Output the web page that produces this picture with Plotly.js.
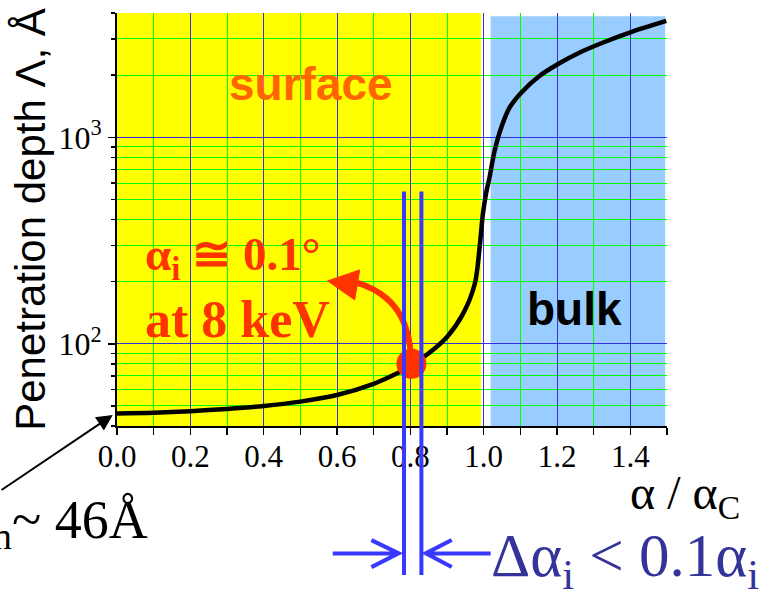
<!DOCTYPE html>
<html>
<head>
<meta charset="utf-8">
<script src="https://cdn.plot.ly/plotly-3.0.1.min.js"></script>
<style>html,body{margin:0;padding:0;background:#fff;}#chart{width:761px;height:591px;}</style>
</head>
<body>
<div id="chart"></div>
<script>
// ---- data ----
const alphaRatio = [0, 0.1, 0.2, 0.3, 0.4, 0.5, 0.6, 0.7, 0.75, 0.8, 0.85, 0.9, 0.944, 0.976, 0.989, 0.998, 1.007, 1.016, 1.03, 1.048, 1.071, 1.103, 1.153, 1.203, 1.262, 1.326, 1.398, 1.498];
const depth = [46, 46.4, 47.2, 48.4, 50, 52.5, 56.5, 64, 70, 78, 90, 108, 140, 196, 294, 427, 540, 640, 863, 1117, 1396, 1650, 1986, 2264, 2576, 2879, 3215, 3660];
const pointX = [0.803];
const pointY = [80];
const xTickVals = [0, 0.2, 0.4, 0.6, 0.8, 1.0, 1.2, 1.4];
const xTickText = ['0.0', '0.2', '0.4', '0.6', '0.8', '1.0', '1.2', '1.4'];
const yTickVals = [100, 1000];
const yTickText = ['10<sup>2</sup>', '10<sup>3</sup>'];
const yMinorVals = [40, 50, 60, 70, 80, 90, 200, 300, 400, 500, 600, 700, 800, 900, 2000, 3000, 4000];
const surfaceRange = [0, 0.993];
const bulkRange = [1.019, 1.495];

// paper-coordinate helper for decorations (plot area 117..667 x 13..426 px)
const PX = p => (p - 117.3) / 550;
const PY = p => (426 - p) / 412.7;

const serif = 'Liberation Serif, Times New Roman, serif';
const sans = 'Liberation Sans, Arial, sans-serif';

const traces = [
  {x: alphaRatio, y: depth, type: 'scatter', mode: 'lines',
   line: {color: 'black', width: 4.5, shape: 'spline', smoothing: 0.9}, hoverinfo: 'skip'},
  {x: pointX, y: pointY, type: 'scatter', mode: 'markers',
   marker: {color: '#ff3300', size: 30}, hoverinfo: 'skip'}
];

const shapes = [
  {type: 'rect', xref: 'x', yref: 'paper', x0: surfaceRange[0], x1: surfaceRange[1], y0: 0, y1: 1,
   fillcolor: '#ffff00', line: {width: 0}, layer: 'below'},
  {type: 'rect', xref: 'x', yref: 'paper', x0: bulkRange[0], x1: bulkRange[1], y0: -0.005, y1: 0.992,
   fillcolor: '#99ccff', line: {width: 0}, layer: 'below'},
  // red curved arrow
  {type: 'path', xref: 'paper', yref: 'paper', layer: 'above',
   path: `M ${PX(411.7)} ${PY(362)} C ${PX(410)} ${PY(320)} ${PX(395)} ${PY(295)} ${PX(358)} ${PY(283)}`,
   line: {color: '#ff3300', width: 6}},
  {type: 'path', xref: 'paper', yref: 'paper', layer: 'above',
   path: `M ${PX(328)} ${PY(281)} L ${PX(360)} ${PY(270)} L ${PX(355)} ${PY(300)} Z`,
   fillcolor: '#ff3300', line: {color: '#ff3300', width: 1}},
  // blue vertical lines
  {type: 'line', xref: 'paper', yref: 'paper', layer: 'above',
   x0: PX(404.3), x1: PX(404.3), y0: PY(575), y1: PY(191.7), line: {color: '#3838ff', width: 4}},
  {type: 'line', xref: 'paper', yref: 'paper', layer: 'above',
   x0: PX(421.7), x1: PX(421.7), y0: PY(575), y1: PY(191.7), line: {color: '#3838ff', width: 4}},
  // blue horizontal arrows
  {type: 'path', xref: 'paper', yref: 'paper', layer: 'above',
   path: `M ${PX(333)} ${PY(553.3)} L ${PX(399)} ${PY(553.3)} M ${PX(371.7)} ${PY(540)} L ${PX(399)} ${PY(553.3)} L ${PX(371.7)} ${PY(567)}`,
   line: {color: '#3838ff', width: 4}},
  {type: 'path', xref: 'paper', yref: 'paper', layer: 'above',
   path: `M ${PX(491)} ${PY(553.3)} L ${PX(426)} ${PY(553.3)} M ${PX(452)} ${PY(540)} L ${PX(426)} ${PY(553.3)} L ${PX(452)} ${PY(567)}`,
   line: {color: '#3838ff', width: 4}}
];

const annotations = [
  {text: '<b>surface</b>', xref: 'paper', yref: 'paper', x: PX(311), y: PY(84),
   xanchor: 'center', yanchor: 'middle',
   showarrow: false, font: {family: sans, size: 46, color: '#ff6600'}},
  {text: '<b>bulk</b>', xref: 'paper', yref: 'paper', x: PX(575), y: PY(309),
   xanchor: 'center', yanchor: 'middle',
   showarrow: false, font: {family: sans, size: 46, color: 'black'}},
  {text: '<b>α<sub>i</sub> ≅ 0.1°</b>', xref: 'paper', yref: 'paper', x: PX(143), y: PY(258),
   xanchor: 'left', yanchor: 'middle', showarrow: false, font: {family: serif, size: 47, color: '#ff3300'}},
  {text: '<b>at 8 keV</b>', xref: 'paper', yref: 'paper', x: PX(143), y: PY(320),
   xanchor: 'left', yanchor: 'middle', showarrow: false, font: {family: serif, size: 52, color: '#ff3300'}},
  {text: 'Λ<sub>min</sub>~ 46Å', xref: 'paper', yref: 'paper', x: PX(150), y: PY(523),
   xanchor: 'right', yanchor: 'middle', showarrow: false, font: {family: serif, size: 54, color: 'black'}},
  {text: 'Δα<sub>i</sub> < 0.1α<sub>i</sub>', xref: 'paper', yref: 'paper', x: PX(489), y: PY(560),
   xanchor: 'left', yanchor: 'middle', showarrow: false, font: {family: serif, size: 61, color: '#333399'}},
  {text: 'α / α<sub>C</sub>', xref: 'paper', yref: 'paper', x: PX(628), y: PY(496),
   xanchor: 'left', yanchor: 'middle', showarrow: false, font: {family: serif, size: 48, color: 'black'}},
  {text: '', xref: 'paper', yref: 'paper', x: PX(113), y: PY(415), ax: -115, ay: 76,
   showarrow: true, arrowhead: 2, arrowsize: 1.6, arrowwidth: 2, arrowcolor: 'black', standoff: 0}
];

const layout = {
  width: 761, height: 591,
  margin: {l: 117, r: 94, t: 13, b: 165, pad: 0},
  paper_bgcolor: 'white', plot_bgcolor: 'white',
  showlegend: false,
  xaxis: {
    range: [0, 1.5], tickvals: xTickVals, ticktext: xTickText,
    showgrid: true, gridcolor: '#3333dd', gridwidth: 1,
    ticks: 'outside', ticklen: 7, tickwidth: 1.5, tickcolor: 'black',
    minor: {dtick: 0.1, tick0: 0, showgrid: true, gridcolor: '#00ff00', gridwidth: 1,
            ticks: 'outside', ticklen: 7, tickwidth: 1.5, tickcolor: 'black'},
    showline: true, linecolor: 'black', linewidth: 2, zeroline: false,
    ticklabelstandoff: -5,
    tickfont: {family: serif, size: 31, color: 'black'}
  },
  yaxis: {
    type: 'log', range: [Math.log10(40), Math.log10(4000)],
    tickvals: yTickVals, ticktext: yTickText,
    showgrid: true, gridcolor: '#3333dd', gridwidth: 1,
    ticks: 'outside', ticklen: 7, tickwidth: 1.5, tickcolor: 'black',
    minor: {tickvals: yMinorVals, showgrid: true, gridcolor: '#00ff00', gridwidth: 1,
            ticks: 'outside', ticklen: 4, tickwidth: 1.5, tickcolor: 'black'},
    showline: true, linecolor: 'black', linewidth: 2, zeroline: false,
    tickfont: {family: serif, size: 32, color: 'black'},
    title: {text: 'Penetration depth Λ, Å', font: {family: sans, size: 42, color: 'black'}, standoff: 0}
  },
  shapes: shapes,
  annotations: annotations
};

Plotly.newPlot('chart', traces, layout, {staticPlot: true, displayModeBar: false});
</script>
</body>
</html>
